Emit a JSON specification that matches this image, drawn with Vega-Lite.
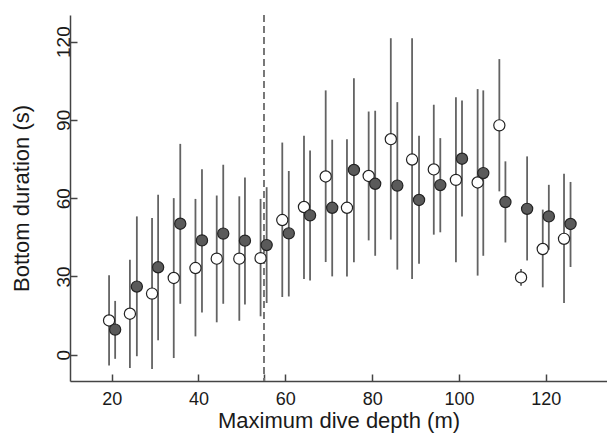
{
  "$schema": "https://vega.github.io/schema/vega-lite/v6.json",
  "width": 537,
  "height": 366,
  "autosize": {"type": "none"},
  "padding": {"left": 70, "top": 15, "right": 0, "bottom": 52},
  "background": "white",
  "config": {
    "view": {"stroke": null},
    "font": "Liberation Sans",
    "axis": {
      "grid": false,
      "domainColor": "#444444",
      "domainWidth": 1.5,
      "tickColor": "#444444",
      "tickWidth": 1.5,
      "labelFontSize": 19,
      "labelColor": "#1a1a1a",
      "titleFontSize": 22,
      "titleFontWeight": "normal",
      "titleColor": "#1a1a1a"
    }
  },
  "data": {
    "values": [
      {"group": "open", "depth": 19.4, "dur": 13.1, "lo": -4.2, "hi": 30.4},
      {"group": "open", "depth": 24.2, "dur": 15.7, "lo": -5.1, "hi": 36.4},
      {"group": "open", "depth": 29.3, "dur": 23.4, "lo": -5.5, "hi": 52.4},
      {"group": "open", "depth": 34.3, "dur": 29.4, "lo": -1.3, "hi": 60.0},
      {"group": "open", "depth": 39.3, "dur": 33.2, "lo": 7.0, "hi": 59.7},
      {"group": "open", "depth": 44.2, "dur": 36.8, "lo": 12.4, "hi": 61.0},
      {"group": "open", "depth": 49.4, "dur": 36.8, "lo": 13.0, "hi": 60.7},
      {"group": "open", "depth": 54.3, "dur": 37.0, "lo": 14.7, "hi": 59.7},
      {"group": "open", "depth": 59.3, "dur": 51.6, "lo": 22.1, "hi": 81.3},
      {"group": "open", "depth": 64.3, "dur": 56.6, "lo": 29.0, "hi": 83.9},
      {"group": "open", "depth": 69.3, "dur": 68.3, "lo": 35.5, "hi": 101.3},
      {"group": "open", "depth": 74.2, "dur": 56.3, "lo": 30.0, "hi": 82.6},
      {"group": "open", "depth": 79.2, "dur": 68.5, "lo": 43.8, "hi": 93.2},
      {"group": "open", "depth": 84.3, "dur": 82.6, "lo": 44.1, "hi": 121.3},
      {"group": "open", "depth": 89.2, "dur": 74.8, "lo": 29.0, "hi": 121.3},
      {"group": "open", "depth": 94.2, "dur": 71.0, "lo": 46.0, "hi": 95.8},
      {"group": "open", "depth": 99.3, "dur": 67.0, "lo": 35.4, "hi": 98.7},
      {"group": "open", "depth": 104.3, "dur": 66.0, "lo": 30.3, "hi": 101.8},
      {"group": "open", "depth": 109.3, "dur": 87.9, "lo": 62.6, "hi": 113.3},
      {"group": "open", "depth": 114.3, "dur": 29.6, "lo": 26.4, "hi": 32.8},
      {"group": "open", "depth": 119.3, "dur": 40.5, "lo": 25.8, "hi": 55.6},
      {"group": "open", "depth": 124.2, "dur": 44.4, "lo": 19.8, "hi": 69.3},
      {"group": "filled", "depth": 20.8, "dur": 9.6, "lo": -1.6, "hi": 20.6},
      {"group": "filled", "depth": 25.8, "dur": 26.1, "lo": -0.6, "hi": 53.0},
      {"group": "filled", "depth": 30.7, "dur": 33.5, "lo": 5.5, "hi": 61.3},
      {"group": "filled", "depth": 35.8, "dur": 50.2, "lo": 19.5, "hi": 80.8},
      {"group": "filled", "depth": 40.8, "dur": 43.8, "lo": 16.2, "hi": 71.1},
      {"group": "filled", "depth": 45.7, "dur": 46.4, "lo": 19.5, "hi": 72.8},
      {"group": "filled", "depth": 50.7, "dur": 43.7, "lo": 19.2, "hi": 67.9},
      {"group": "filled", "depth": 55.7, "dur": 42.0, "lo": 19.8, "hi": 64.2},
      {"group": "filled", "depth": 60.8, "dur": 46.5, "lo": 22.3, "hi": 70.4},
      {"group": "filled", "depth": 65.7, "dur": 53.4, "lo": 28.4, "hi": 78.3},
      {"group": "filled", "depth": 70.8, "dur": 56.3, "lo": 30.0, "hi": 82.4},
      {"group": "filled", "depth": 75.8, "dur": 70.8, "lo": 35.4, "hi": 106.0},
      {"group": "filled", "depth": 80.7, "dur": 65.5, "lo": 37.9, "hi": 93.5},
      {"group": "filled", "depth": 85.8, "dur": 64.8, "lo": 32.6, "hi": 96.8},
      {"group": "filled", "depth": 90.8, "dur": 59.3, "lo": 34.8, "hi": 83.9},
      {"group": "filled", "depth": 95.7, "dur": 65.0, "lo": 46.9, "hi": 83.0},
      {"group": "filled", "depth": 100.7, "dur": 75.1, "lo": 53.0, "hi": 97.4},
      {"group": "filled", "depth": 105.6, "dur": 69.6, "lo": 37.9, "hi": 101.3},
      {"group": "filled", "depth": 110.7, "dur": 58.5, "lo": 43.0, "hi": 74.1},
      {"group": "filled", "depth": 115.7, "dur": 55.9, "lo": 36.1, "hi": 76.0},
      {"group": "filled", "depth": 120.7, "dur": 53.0, "lo": 40.2, "hi": 65.1},
      {"group": "filled", "depth": 125.7, "dur": 50.1, "lo": 33.6, "hi": 66.2}
    ]
  },
  "resolve": {"axis": {"x": "independent", "y": "independent"}},
  "layer": [
    {
      "mark": {"type": "rule", "color": "#636363", "strokeWidth": 1.8},
      "encoding": {
        "x": {
          "field": "depth",
          "type": "quantitative",
          "scale": {"domain": [10.4, 134.1], "nice": false, "zero": false},
          "axis": {
            "orient": "bottom",
            "title": "Maximum dive depth (m)",
            "values": [20, 40, 60, 80, 100, 120],
            "ticks": true,
            "tickSize": -7,
            "tickOpacity": 0,
            "labelFontSize": 18,
            "labelPadding": 16,
            "titlePadding": 2
          }
        },
        "y": {
          "field": "lo",
          "type": "quantitative",
          "scale": {"domain": [-10.1, 130.2], "nice": false, "zero": false},
          "axis": {
            "orient": "left",
            "title": "Bottom duration (s)",
            "values": [0, 30, 60, 90, 120],
            "ticks": true,
            "tickSize": -7,
            "tickOpacity": 0,
            "labelAngle": -90,
            "labelAlign": "center",
            "labelBaseline": "bottom",
            "labelPadding": 4,
            "titlePadding": 21
          }
        },
        "y2": {"field": "hi"}
      }
    },
    {
      "mark": {"type": "rule", "color": "#777777", "strokeWidth": 1.2, "strokeDash": [7, 4]},
      "encoding": {"x": {"datum": 55, "type": "quantitative", "axis": null}}
    },
    {
      "transform": [{"filter": "datum.group == 'open'"}],
      "mark": {"type": "circle", "size": 125, "fill": "#ffffff", "stroke": "#222222", "strokeWidth": 1.2, "opacity": 1},
      "encoding": {
        "x": {
          "field": "depth",
          "type": "quantitative",
          "axis": {
            "orient": "bottom",
            "title": null,
            "values": [20, 40, 55, 60, 80, 100, 120],
            "labels": false,
            "domain": false,
            "ticks": true,
            "tickSize": 7,
            "offset": -7
          }
        },
        "y": {
          "field": "dur",
          "type": "quantitative",
          "axis": {
            "orient": "left",
            "title": null,
            "values": [0, 30, 60, 90, 120],
            "labels": false,
            "domain": false,
            "ticks": true,
            "tickSize": 7,
            "offset": -7
          }
        }
      }
    },
    {
      "transform": [{"filter": "datum.group == 'filled'"}],
      "mark": {"type": "circle", "size": 125, "fill": "#5a5a5a", "stroke": "#222222", "strokeWidth": 1.2, "opacity": 1},
      "encoding": {
        "x": {"field": "depth", "type": "quantitative", "axis": null},
        "y": {"field": "dur", "type": "quantitative", "axis": null}
      }
    }
  ]
}
